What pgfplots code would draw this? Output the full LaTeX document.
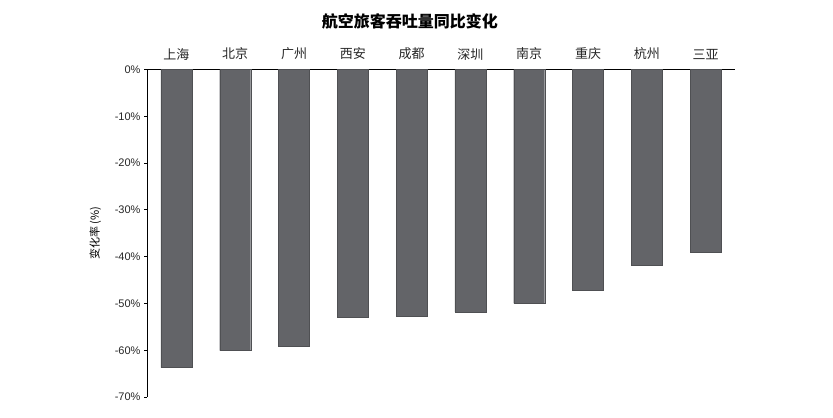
\documentclass[border=0pt]{standalone}
\usepackage{pgfplots}
\pgfplotsset{compat=1.18}
\usepackage{fontspec}
\setmainfont{Liberation Sans}
\newfontfamily\cjk{Noto Sans CJK SC}
\definecolor{barc}{RGB}{99,100,104}
\begin{document}
\begin{tikzpicture}[x=1bp,y=1bp]
\useasboundingbox (0,0) rectangle (833,417);
\begin{axis}[
  at={(147bp,20bp)}, anchor=south west,
  scale only axis, width=588bp, height=327.5bp,
  xmin=-0.5, xmax=9.5, ymin=-70, ymax=0,
  axis x line=top, axis y line=left,
  axis line style={black, line width=1pt, -},
  xtick={0,...,9},
  xticklabels={上海,北京,广州,西安,成都,深圳,南京,重庆,杭州,三亚},
  xticklabel style={font=\cjk\fontsize{13bp}{15bp}\selectfont, text=black!85, yshift=3bp},
  x tick style={draw=none},
  ytick={-70,-60,...,0},
  yticklabels={-70\%,-60\%,-50\%,-40\%,-30\%,-20\%,-10\%,0\%},
  yticklabel style={font=\fontsize{11bp}{13bp}\selectfont, text=black!85},
  y tick style={black, line width=0.8pt},
  tick align=outside, major tick length=3bp,
  title={\cjk\bfseries 航空旅客吞吐量同比变化},
  title style={font=\fontsize{16bp}{18bp}\selectfont, at={(axis description cs:0.447,1.13)}, anchor=center},
  ylabel={\cjk 变化率 (\%)},
  ylabel style={font=\fontsize{11bp}{13bp}\selectfont, at={(axis description cs:-0.088,0.5)}, anchor=center, rotate=0},
  ybar, bar width=31bp,
  clip=false,
]
\addplot[fill=barc, draw=barc!80!black, line width=0.4pt] coordinates {
 (0,-63.7) (1,-60.1) (2,-59.2) (3,-53.0) (4,-52.8)
 (5,-51.8) (6,-50.0) (7,-47.1) (8,-41.9) (9,-39.0)
};
\end{axis}
\end{tikzpicture}
\end{document}
